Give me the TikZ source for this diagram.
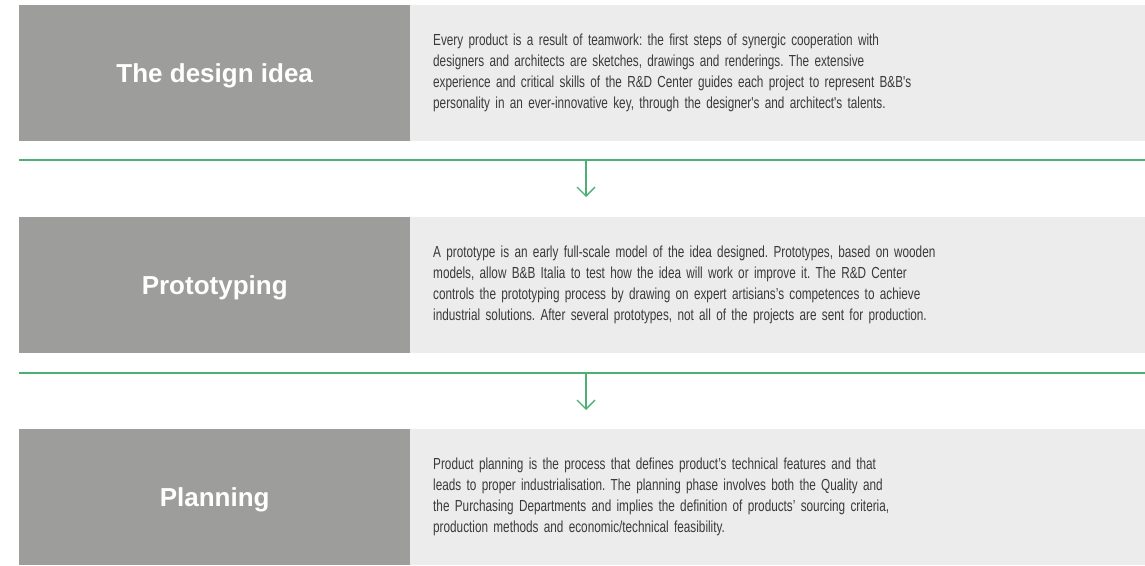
\documentclass[tikz,border=0pt]{standalone}
\usepackage{fontspec}
\setmainfont{Liberation Sans}
\newfontfamily\bodyfont[FakeStretch=0.735]{Liberation Sans}
\newcommand\descfont{\bodyfont\fontsize{16}{21}\selectfont\frenchspacing\spaceskip=3.2pt\relax}
\usetikzlibrary{arrows.meta}
\definecolor{stagegray}{HTML}{9D9D9B}
\definecolor{panelgray}{HTML}{ECECEC}
\definecolor{flowgreen}{HTML}{4DAF74}
\definecolor{bodytext}{HTML}{3A3A3A}
\tikzset{
  stagebox/.style={rectangle, fill=stagegray, draw=none, minimum width=391pt,
    minimum height=136pt, inner sep=0pt, anchor=north west,
    text height=18.6pt, text depth=0pt,
    text=white, font=\fontsize{26}{30}\selectfont\bfseries},
  descbox/.style={rectangle, fill=panelgray, draw=none, minimum width=735pt,
    minimum height=136pt, inner xsep=23pt, inner ysep=0pt, anchor=north west,
    text width=689pt, align=left, text=bodytext, font=\descfont},
  divider/.style={draw=flowgreen, line width=1.3pt},
  flowarrow/.style={draw=flowgreen, line width=1.3pt,
    -{Straight Barb[length=9pt,width=18pt,line width=1.3pt]}}
}
\begin{document}
\frenchspacing
\begin{tikzpicture}[x=1pt,y=-1pt]
  \useasboundingbox (0,0) rectangle (1145,565);

  % stage 1
  \node[stagebox] (t1) at (19,5) {The design idea};
  \node[descbox] (d1) at (410,5) {Every product is a result of teamwork: the first steps of synergic cooperation with\\
designers and architects are sketches, drawings and renderings. The extensive\\
experience and critical skills of the R\&D Center guides each project to represent B\&B's\\
personality in an ever-innovative key, through the designer's and architect's talents.};

  % stage 2
  \node[stagebox] (t2) at (19,217) {Prototyping};
  \node[descbox] (d2) at (410,217) {A prototype is an early full-scale model of the idea designed. Prototypes, based on wooden\\
models, allow B\&B Italia to test how the idea will work or improve it. The R\&D Center\\
controls the prototyping process by drawing on expert artisians’s competences to achieve\\
industrial solutions. After several prototypes, not all of the projects are sent for production.};

  % stage 3
  \node[stagebox] (t3) at (19,429) {Planning};
  \node[descbox] (d3) at (410,429) {Product planning is the process that defines product’s technical features and that\\
leads to proper industrialisation. The planning phase involves both the Quality and\\
the Purchasing Departments and implies the definition of products’ sourcing criteria,\\
production methods and economic/technical feasibility.};

  % dividers with downward arrows
  \coordinate (l1a) at (19,160);
  \coordinate (l1b) at (1145,160);
  \coordinate (a1s) at (586,160);
  \coordinate (a1e) at (586,197);
  \draw[divider] (l1a) -- (l1b);
  \draw[flowarrow] (a1s) -- (a1e);

  \coordinate (l2a) at (19,373);
  \coordinate (l2b) at (1145,373);
  \coordinate (a2s) at (586,373);
  \coordinate (a2e) at (586,410);
  \draw[divider] (l2a) -- (l2b);
  \draw[flowarrow] (a2s) -- (a2e);
\end{tikzpicture}
\end{document}
